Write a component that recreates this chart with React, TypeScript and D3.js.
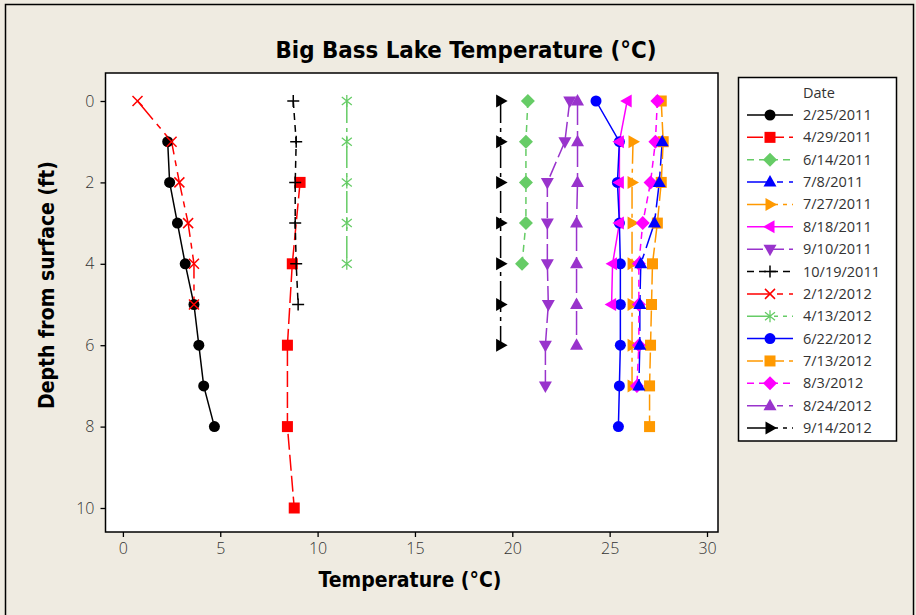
import React, { useRef, useEffect } from 'react';
import * as d3 from 'd3';

const dates = ['2/25/2011','4/29/2011','6/14/2011','7/8/2011','7/27/2011','8/18/2011','9/10/2011','10/19/2011','2/12/2012','4/13/2012','6/22/2012','7/13/2012','8/3/2012','8/24/2012','9/14/2012'];

const depth1to8 = [1, 2, 3, 4, 5, 6, 7, 8];
const depthEven = [2, 4, 6, 8, 10];
const depth0to4 = [0, 1, 2, 3, 4];
const depth1to7 = [1, 2, 3, 4, 5, 6, 7];
const depth0to5 = [0, 1, 2, 3, 4, 5];
const depth0to6 = [0, 1, 2, 3, 4, 5, 6];
const depth0to7 = [0, 1, 2, 3, 4, 5, 6, 7];
const depth0to8 = [0, 1, 2, 3, 4, 5, 6, 7, 8];

const temp_2_25_2011 = [2.3, 2.4, 2.8, 3.2, 3.65, 3.9, 4.15, 4.7];
const temp_4_29_2011 = [9.1, 8.7, 8.45, 8.45, 8.8];
const temp_6_14_2011 = [20.8, 20.7, 20.7, 20.7, 20.5];
const temp_7_8_2011 = [27.7, 27.55, 27.3, 26.6, 26.55, 26.55, 26.5];
const temp_7_27_2011 = [26.2, 26.15, 26.15, 26.15, 26.15, 26.15, 26.15];
const temp_8_18_2011 = [25.9, 25.5, 25.5, 25.5, 25.15, 25.1];
const temp_9_10_2011 = [22.95, 22.7, 21.8, 21.8, 21.8, 21.85, 21.7, 21.7];
const temp_10_19_2011 = [8.75, 8.9, 8.85, 8.85, 8.9, 9.0];
const temp_2_12_2012 = [0.75, 2.5, 2.9, 3.35, 3.65, 3.65];
const temp_4_13_2012 = [11.5, 11.5, 11.5, 11.5, 11.5];
const temp_6_22_2012 = [24.3, 25.5, 25.4, 25.5, 25.55, 25.55, 25.55, 25.5, 25.45];
const temp_7_13_2012 = [27.65, 27.75, 27.65, 27.45, 27.2, 27.15, 27.1, 27.05, 27.05];
const temp_8_3_2012 = [27.45, 27.35, 27.1, 26.7, 26.5, 26.5, 26.5, 26.4];
const temp_8_24_2012 = [23.35, 23.35, 23.35, 23.3, 23.3, 23.3, 23.3];
const temp_9_14_2012 = [19.4, 19.4, 19.4, 19.4, 19.4, 19.4, 19.4];

const seriesDepths = [depth1to8, depthEven, depth0to4, depth1to7, depth1to7, depth0to5, depth0to7, depth0to5, depth0to5, depth0to4, depth0to8, depth0to8, depth0to7, depth0to6, depth0to6];
const seriesTemps = [temp_2_25_2011, temp_4_29_2011, temp_6_14_2011, temp_7_8_2011, temp_7_27_2011, temp_8_18_2011, temp_9_10_2011, temp_10_19_2011, temp_2_12_2012, temp_4_13_2012, temp_6_22_2012, temp_7_13_2012, temp_8_3_2012, temp_8_24_2012, temp_9_14_2012];

const xTicks = [0, 5, 10, 15, 20, 25, 30];
const yTicks = [0, 2, 4, 6, 8, 10];

const palette = ['#000000', '#FF0000', '#66CC66', '#0000FF', '#FF9900', '#FF00FF', '#9933CC'];
const markerTypes = ['circle', 'square', 'diamond', 'up', 'right', 'left', 'down', 'plus', 'x', 'asterisk'];
const dashTypes = [null, '16,5', '7,5', '24,6,6,6', '22,5,4,5,4,5'];
const markerOrder = [0, 1, 2, 4, 6, 7, 8, 9, 10, 11, 12, 13, 14, 5, 3];

const W = 916, H = 615;
const PL = 105.5, PR = 718, PT = 73, PB = 532;
const FONT = "'Open Sans', 'DejaVu Sans', sans-serif";
const BOLD = "'DejaVu Sans Condensed', 'DejaVu Sans', sans-serif";

function Marker({ type, color, x, y }: { type: string; color: string; x: number; y: number }) {
  const t = `translate(${x},${y})`;
  switch (type) {
    case 'circle':
      return <circle cx={x} cy={y} r={5.5} fill={color} />;
    case 'square':
      return <rect x={x - 5.5} y={y - 5.5} width={11} height={11} fill={color} />;
    case 'diamond':
      return <path transform={t} d="M0,-7L7,0L0,7L-7,0Z" fill={color} />;
    case 'up':
      return <path transform={t} d="M0,-7L6.5,4.5L-6.5,4.5Z" fill={color} />;
    case 'down':
      return <path transform={t} d="M0,7L6.5,-4.5L-6.5,-4.5Z" fill={color} />;
    case 'right':
      return <path transform={t} d="M7,0L-4.5,-6.5L-4.5,6.5Z" fill={color} />;
    case 'left':
      return <path transform={t} d="M-7,0L4.5,-6.5L4.5,6.5Z" fill={color} />;
    case 'plus':
      return <path transform={t} d="M-6,0H6M0,-6V6" stroke={color} strokeWidth={1.5} fill="none" />;
    case 'x':
      return <path transform={t} d="M-5,-5L5,5M-5,5L5,-5" stroke={color} strokeWidth={1.5} fill="none" />;
    case 'asterisk':
      return <path transform={t} d="M0,-6V6M-5,-4L5,4M-5,4L5,-4" stroke={color} strokeWidth={1.3} fill="none" />;
    default:
      return null;
  }
}

export default function App() {
  const xAxisRef = useRef<SVGGElement>(null);
  const yAxisRef = useRef<SVGGElement>(null);

  const x = d3.scaleLinear().domain([0, 30]).range([122.9, 707]);
  const y = d3.scaleLinear().domain([0, 10]).range([101, 508]);

  useEffect(() => {
    const xa = d3.select(xAxisRef.current!);
    xa.call(d3.axisBottom(x).tickValues(xTicks).tickSize(5).tickSizeOuter(0).tickPadding(6) as any);
    xa.select('.domain').remove();
    xa.selectAll('line').attr('stroke', '#000').attr('stroke-width', 1.3);
    xa.selectAll('text').attr('font-family', FONT).attr('font-size', 16).attr('fill', '#333').attr('font-weight', 300);
    const ya = d3.select(yAxisRef.current!);
    ya.call(d3.axisLeft(y).tickValues(yTicks).tickSize(5).tickSizeOuter(0).tickPadding(6) as any);
    ya.select('.domain').remove();
    ya.selectAll('line').attr('stroke', '#000').attr('stroke-width', 1.3);
    ya.selectAll('text').attr('font-family', FONT).attr('font-size', 16).attr('fill', '#333').attr('font-weight', 300);
  }, []);

  const line = d3.line<[number, number]>().x(d => x(d[0])).y(d => y(d[1]));

  const legendX = 738.5, legendY = 77.5, legendW = 158, legendH = 363.5;
  const entryY0 = 115, entryStep = 22.36;

  return (
    <svg width={W} height={H} style={{ position: 'absolute', left: 0, top: 0 }}>
      <rect x={0} y={0} width={W} height={H} fill="#efebe1" />
      <rect x={5.5} y={4.5} width={908} height={620} fill="none" stroke="#000" strokeWidth={1.5} />
      <text x={466} y={58} textAnchor="middle" fontFamily={BOLD} fontWeight="bold" fontSize={23.8} fill="#000">
        Big Bass Lake Temperature (°C)
      </text>
      <rect x={PL} y={PT} width={PR - PL} height={PB - PT} fill="#fff" stroke="#000" strokeWidth={1.5} />
      <g ref={xAxisRef} transform={`translate(0,${PB})`} />
      <g ref={yAxisRef} transform={`translate(${PL},0)`} />
      <text x={410} y={587} textAnchor="middle" fontFamily={BOLD} fontWeight="bold" fontSize={21} fill="#000">
        Temperature (°C)
      </text>
      <text transform="translate(54,285) rotate(-90)" textAnchor="middle" fontFamily={BOLD} fontWeight="bold" fontSize={21} fill="#000">
        Depth from surface (ft)
      </text>
      <g>
        {seriesTemps.map((temps, i) => {
          const pts = temps.map((t, j) => [t, seriesDepths[i][j]] as [number, number]);
          const dash = dashTypes[i % dashTypes.length];
          return (
            <path key={'l' + i} d={line(pts) || ''} fill="none" stroke={palette[i % palette.length]} strokeWidth={1.5} strokeDasharray={dash || undefined} />
          );
        })}
      </g>
      <g>
        {markerOrder.map(i => (
          <g key={'m' + i}>
            {seriesTemps[i].map((t, j) => (
              <Marker key={j} type={markerTypes[i % markerTypes.length]} color={palette[i % palette.length]} x={x(t)} y={y(seriesDepths[i][j])} />
            ))}
          </g>
        ))}
      </g>
      <g>
        <rect x={legendX} y={legendY} width={legendW} height={legendH} fill="#fff" stroke="#000" strokeWidth={1.5} />
        <text x={803} y={98} fontFamily={FONT} fontSize={14.5} fill="#333">Date</text>
        {dates.map((d, i) => {
          const ly = entryY0 + i * entryStep;
          const color = palette[i % palette.length];
          const dash = dashTypes[i % dashTypes.length];
          return (
            <g key={'lg' + i}>
              <line x1={747} x2={793} y1={ly} y2={ly} stroke={color} strokeWidth={1.5} strokeDasharray={dash || undefined} />
              <Marker type={markerTypes[i % markerTypes.length]} color={color} x={770} y={ly} />
              <text x={803} y={ly + 5} fontFamily={FONT} fontSize={14.5} fill="#333">{d}</text>
            </g>
          );
        })}
      </g>
    </svg>
  );
}
